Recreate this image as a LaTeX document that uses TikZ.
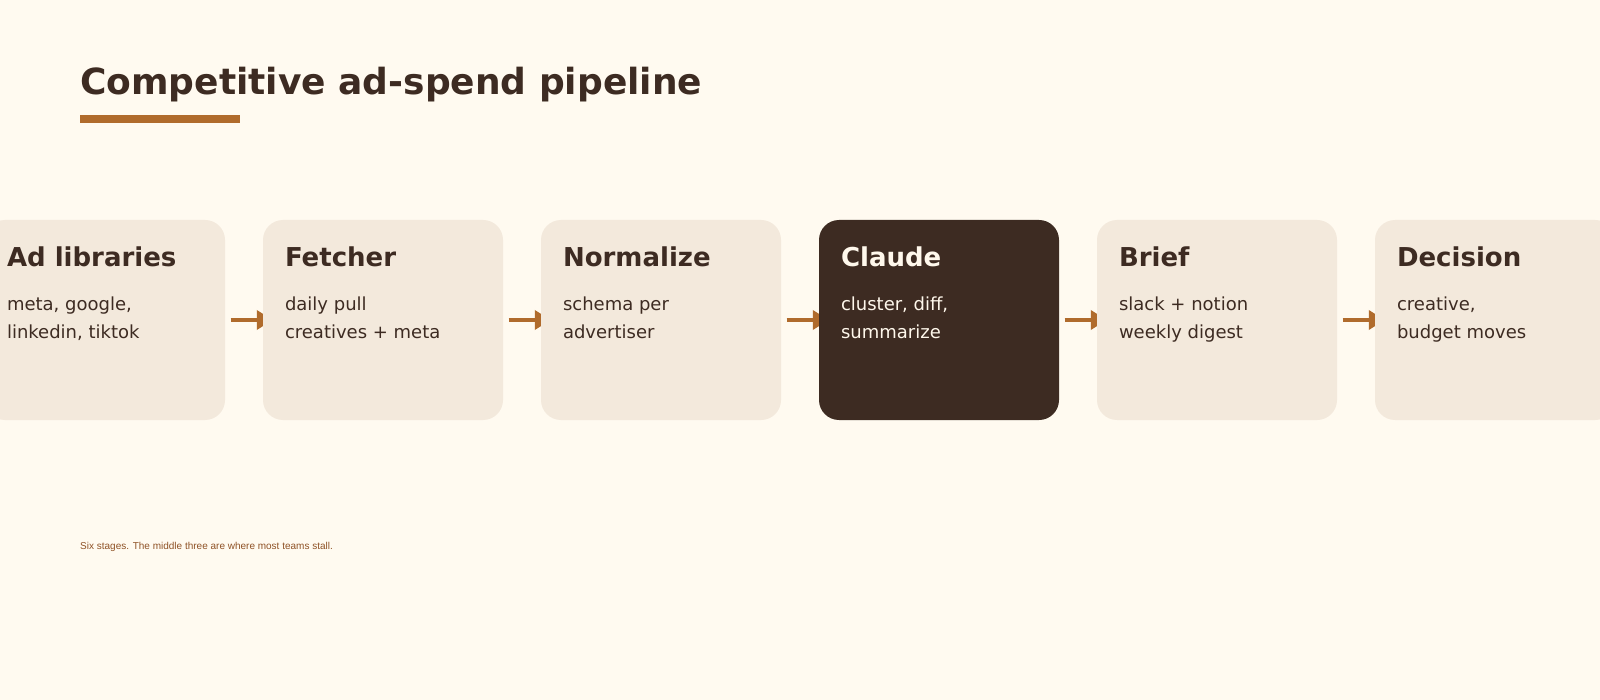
\documentclass[tikz,border=0pt]{standalone}
\usepackage{fontspec}
\setmainfont{DejaVu Sans}
\newfontfamily\notefont{Liberation Sans}
\usepackage{tikz}
\usetikzlibrary{arrows.meta,positioning,calc}
\definecolor{paper}{HTML}{FFFAF0}
\definecolor{card}{HTML}{F3E9DC}
\definecolor{ink}{HTML}{3D2B22}
\definecolor{cream}{HTML}{FFF8EC}
\definecolor{rust}{HTML}{B06B2C}
\definecolor{notecol}{HTML}{8F5226}
\pgfdeclarelayer{paperlayer}
\pgfdeclarelayer{flowlayer}
\pgfsetlayers{paperlayer,flowlayer,main}

\begin{document}
\begin{tikzpicture}[x=1pt,y=-1pt]
  \def\x{278}
  \tikzset{card/.style={fill=card,rounded corners=20pt,minimum width=240pt,minimum height=200pt,inner sep=0pt}}
  \tikzset{hot/.style={card,fill=ink}}
  \tikzset{head/.style={anchor=base west,inner sep=0pt,text=ink,font=\fontsize{26}{31}\selectfont\bfseries}}
  \tikzset{body/.style={anchor=base west,inner sep=0pt,text=ink,align=left,font=\fontsize{18}{28}\selectfont}}
  \tikzset{flow/.style={-{Triangle[length=16pt,width=19pt]},draw=rust,line width=3.5pt}}
  \useasboundingbox (0,0) rectangle (1600,700);
  \begin{pgfonlayer}{paperlayer}
    \fill[paper] (0,0) rectangle (1600,700);
  \end{pgfonlayer}
  % title
  \node[anchor=base west,inner sep=0pt,text=ink,font=\fontsize{36}{43}\selectfont\bfseries] (title) at (80,95) {Competitive ad-spend pipeline};
  \fill[rust] (80,115) rectangle (240,123);
  % stages
  \node[card] (libs) at (105,320) {};
  \node[card] (fetch) at (105+1*\x,320) {};
  \node[card] (norm) at (105+2*\x,320) {};
  \node[hot] (claude) at (105+3*\x,320) {};
  \node[card] (brief) at (105+4*\x,320) {};
  \node[card] (decision) at (105+5*\x,320) {};
  \node[head] at ([shift={(22,47)}]libs.north west) {Ad libraries};
  \node[body] at ([shift={(22,119)}]libs.north west) {meta, google,\\linkedin, tiktok};
  \node[head] at ([shift={(22,47)}]fetch.north west) {Fetcher};
  \node[body] at ([shift={(22,119)}]fetch.north west) {daily pull\\creatives + meta};
  \node[head] at ([shift={(22,47)}]norm.north west) {Normalize};
  \node[body] at ([shift={(22,119)}]norm.north west) {schema per\\advertiser};
  \node[head,text=cream] at ([shift={(22,47)}]claude.north west) {Claude};
  \node[body,text=cream] at ([shift={(22,119)}]claude.north west) {cluster, diff,\\summarize};
  \node[head] at ([shift={(22,47)}]brief.north west) {Brief};
  \node[body] at ([shift={(22,119)}]brief.north west) {slack + notion\\weekly digest};
  \node[head] at ([shift={(22,47)}]decision.north west) {Decision};
  \node[body] at ([shift={(22,119)}]decision.north west) {creative,\\budget moves};
  % arrows sit under the cards
  \begin{pgfonlayer}{flowlayer}
    \draw[flow] ([xshift=5.5pt]libs.east) -- ([xshift=10pt]fetch.west);
    \draw[flow] ([xshift=5.5pt]fetch.east) -- ([xshift=10pt]norm.west);
    \draw[flow] ([xshift=5.5pt]norm.east) -- ([xshift=10pt]claude.west);
    \draw[flow] ([xshift=5.5pt]claude.east) -- ([xshift=10pt]brief.west);
    \draw[flow] ([xshift=5.5pt]brief.east) -- ([xshift=10pt]decision.west);
  \end{pgfonlayer}
  \node[anchor=base west,inner sep=0pt,text=notecol,font=\notefont\fontsize{10}{12}\selectfont] (note) at (80,549) {Six stages. The middle three are where most teams stall.};
\end{tikzpicture}
\end{document}
